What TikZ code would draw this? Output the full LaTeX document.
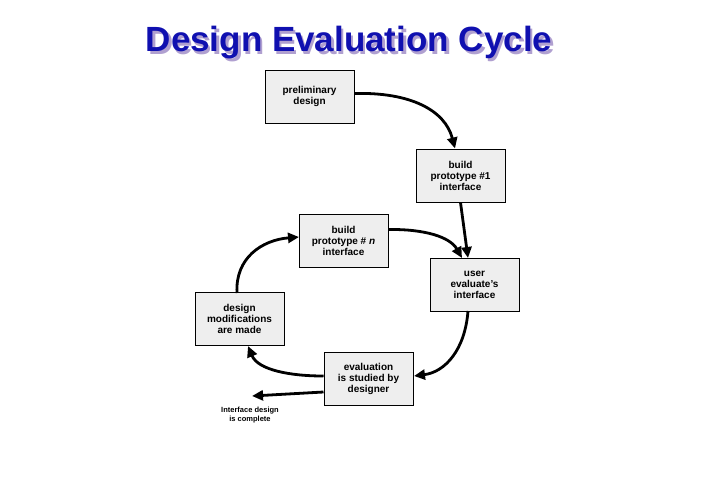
\documentclass[tikz,border=0pt]{standalone}
\usepackage{fontspec}
\setmainfont{Liberation Sans}
\usetikzlibrary{arrows.meta}
\definecolor{boxfill}{HTML}{EEEEEE}
\definecolor{titleblue}{HTML}{1010B0}
\definecolor{shadowc}{HTML}{B0A0D0}
\begin{document}
\begin{tikzpicture}[x=1pt,y=-1pt,
  stage/.style={draw=black,line width=1pt,fill=boxfill,minimum width=89pt,minimum height=53pt,align=center,font=\bfseries\fontsize{10}{11}\selectfont,inner sep=1pt},
  flow/.style={-{Triangle[length=11pt,width=10pt]},line width=2.8pt}]
\useasboundingbox (0,0) rectangle (720,480);
\node[text=shadowc,font=\bfseries\fontsize{35}{37}\selectfont] at (351.5,45.5) {Design Evaluation Cycle};
\node (title) [text=titleblue,font=\bfseries\fontsize{35}{37}\selectfont] at (349,43) {Design Evaluation Cycle};
\node (pre) [stage] at (309.5,96.5) {preliminary\\design};
\node (b1) [stage] at (460.5,175.5) {build\\prototype \#1\\interface};
\node (bn) [stage] at (343.5,240.5) {build\\prototype \# \textit{n}\\interface};
\node (user) [stage] at (474.5,285) {user\\evaluate's\\interface};
\node (mod) [stage] at (239.5,319) {design\\modifications\\are made};
\node (ev) [stage] at (368.5,379) {evaluation\\is studied by\\designer};
\node (done) [align=center,font=\bfseries\fontsize{7.5}{9}\selectfont,inner sep=0pt] at (250,415) {Interface design\\is complete};
\coordinate (doneend) at (252,396);
\draw[flow] (pre.east)++(0,-3) .. controls (410,92) and (445,110) .. (b1.north -| 455,0);
\draw[flow] (b1.south) -- (468,258);
\draw[flow] (bn.east)++(0,-11) .. controls (425,229) and (450,237) .. (462,258);
\draw[flow] (468,311) .. controls (465,350) and (445,372) .. (414,376);
\draw[flow] (ev.west)++(0,-3) .. controls (290,376) and (258,370) .. (248,346);
\draw[flow] (237,293) .. controls (235,258) and (262,240) .. (299,237);
\draw[flow] (ev.west)++(0,13) -- (doneend);
\end{tikzpicture}
\end{document}
